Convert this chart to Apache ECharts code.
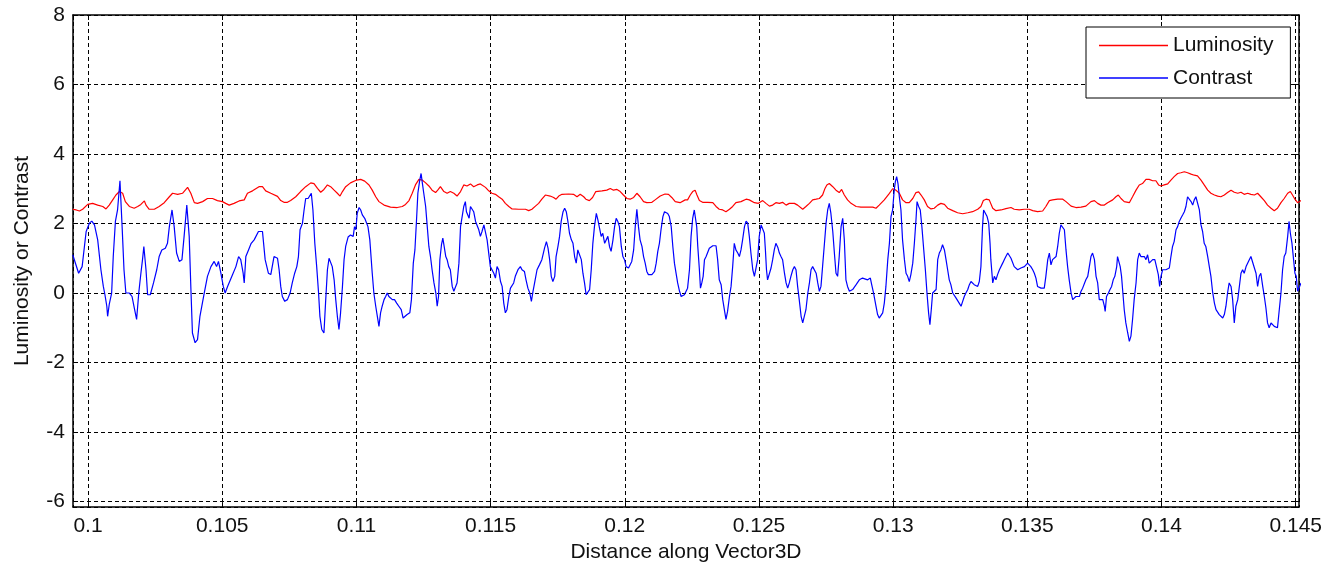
<!DOCTYPE html>
<html>
<head>
<meta charset="utf-8">
<script src="https://cdn.jsdelivr.net/npm/echarts@6/dist/echarts.min.js"></script>
<style>
  html, body { margin: 0; padding: 0; background: #fff; }
  #chart { width: 1325px; height: 568px; }
</style>
</head>
<body>
<div id="chart"></div>
<script>
// Luminosity profile sampled along the vector
const luminosityX = [
  0.09943,0.09956,0.09968,0.09980,0.09999,0.10017,0.10036,0.10055,0.10067,0.10079,
  0.10092,0.10104,0.10117,0.10123,0.10129,0.10139,0.10154,0.10172,0.10185,0.10197,
  0.10210,0.10216,0.10228,0.10247,0.10265,0.10284,0.10303,0.10315,0.10334,0.10352,
  0.10371,0.10383,0.10396,0.10408,0.10427,0.10445,0.10464,0.10482,0.10501,0.10513,
  0.10526,0.10544,0.10563,0.10582,0.10594,0.10613,0.10637,0.10650,0.10662,0.10681,
  0.10706,0.10718,0.10730,0.10743,0.10755,0.10774,0.10792,0.10811,0.10830,0.10842,
  0.10855,0.10867,0.10879,0.10892,0.10904,0.10917,0.10929,0.10939,0.10948,0.10960,
  0.10978,0.11001,0.11016,0.11031,0.11047,0.11059,0.11072,0.11084,0.11103,0.11127,
  0.11152,0.11171,0.11183,0.11196,0.11208,0.11220,0.11233,0.11245,0.11258,0.11270,
  0.11282,0.11295,0.11303,0.11313,0.11326,0.11338,0.11350,0.11363,0.11375,0.11388,
  0.11400,0.11412,0.11425,0.11437,0.11450,0.11462,
  0.11468,0.11481,0.11493,0.11505,0.11518,0.11530,0.11543,0.11555,0.11568,0.11580,
  0.11605,0.11630,0.11642,0.11654,0.11667,0.11679,0.11691,0.11704,0.11710,0.11722,
  0.11735,0.11744,0.11754,0.11766,0.11791,0.11809,0.11822,0.11834,0.11847,0.11855,
  0.11868,0.11880,0.11892,0.11915,0.11933,0.11946,0.11958,0.11971,0.11983,0.11995,
  0.12008,0.12020,0.12033,0.12045,0.12057,0.12070,0.12082,0.12101,0.12113,0.12132,
  0.12150,0.12163,0.12175,0.12188,0.12206,0.12225,
  0.12234,0.12244,0.12253,0.12262,0.12269,0.12278,0.12290,0.12309,0.12328,0.12340,
  0.12352,0.12365,0.12377,0.12390,0.12402,0.12414,0.12433,0.12452,0.12464,0.12483,
  0.12498,0.12514,0.12526,0.12539,0.12551,0.12563,0.12576,0.12588,0.12601,0.12613,
  0.12632,0.12644,0.12663,0.12675,0.12688,0.12700,0.12713,0.12725,0.12737,0.12746,
  0.12753,0.12762,0.12775,0.12787,0.12799,0.12808,0.12818,0.12830,0.12843,0.12862,
  0.12880,0.12905,0.12924,0.12936,0.12948,0.12967,0.12986,0.12998,
  0.13010,0.13023,0.13035,0.13048,0.13060,0.13073,0.13085,0.13095,0.13104,0.13116,
  0.13128,0.13141,0.13153,0.13166,0.13178,0.13191,0.13203,0.13222,0.13240,0.13259,
  0.13278,0.13296,0.13315,0.13327,0.13336,0.13346,0.13358,0.13371,0.13383,0.13402,
  0.13420,0.13439,0.13451,0.13470,0.13489,0.13507,0.13520,0.13538,0.13557,0.13569,
  0.13582,0.13594,0.13613,0.13632,0.13644,0.13663,0.13681,0.13700,0.13718,0.13737,
  0.13750,
  0.13762,0.13774,0.13787,0.13799,0.13818,0.13830,0.13839,0.13849,0.13861,0.13880,
  0.13892,0.13905,0.13917,0.13929,0.13942,0.13954,0.13967,0.13979,0.13989,0.13998,
  0.14010,0.14023,0.14035,0.14047,0.14060,0.14072,0.14085,0.14097,0.14110,0.14122,
  0.14134,0.14147,0.14159,0.14172,0.14184,0.14197,0.14209,0.14221,0.14234,0.14246,
  0.14259,0.14271,0.14284,0.14296,0.14308,0.14321,0.14333,0.14346,0.14358,0.14370,
  0.14383,0.14395,0.14408,0.14420,0.14432,0.14445,0.14457,0.14470,0.14480,0.14488,
  0.14497,0.14507,0.14520
];
const luminosityY = [
  2.41,2.39,2.36,2.41,2.55,2.58,2.53,2.49,2.42,2.53,
  2.68,2.82,2.92,2.94,2.87,2.63,2.49,2.44,2.49,2.55,
  2.65,2.53,2.41,2.41,2.49,2.60,2.77,2.87,2.84,2.87,
  3.04,2.87,2.60,2.58,2.63,2.72,2.72,2.66,2.63,2.58,
  2.53,2.58,2.65,2.68,2.87,2.94,3.06,3.06,2.94,2.87,
  2.78,2.66,2.61,2.61,2.66,2.77,2.92,3.06,3.17,3.15,
  3.01,2.90,2.98,3.11,3.06,2.96,2.87,2.79,2.92,3.06,
  3.17,3.25,3.27,3.22,3.11,2.96,2.77,2.63,2.53,2.47,
  2.46,2.49,2.55,2.66,2.87,3.11,3.27,3.25,3.17,3.08,
  2.96,2.89,2.96,3.06,2.92,2.87,2.92,2.87,2.79,2.92,
  3.11,3.08,3.14,3.06,3.11,3.14,
  3.11,3.04,2.94,2.87,2.84,2.77,2.70,2.58,2.49,2.42,
  2.41,2.41,2.37,2.41,2.50,2.58,2.70,2.82,2.87,2.79,
  2.75,2.70,2.79,2.84,2.85,2.84,2.77,2.84,2.77,2.70,
  2.66,2.75,2.92,2.94,2.96,3.01,2.96,2.98,2.92,2.82,
  2.72,2.70,2.75,2.87,2.77,2.63,2.60,2.61,2.68,2.79,
  2.85,2.84,2.75,2.63,2.60,2.68,
  2.68,2.82,2.92,2.96,2.82,2.66,2.61,2.61,2.60,2.49,
  2.41,2.39,2.34,2.41,2.49,2.60,2.63,2.70,2.68,2.60,
  2.58,2.66,2.58,2.50,2.53,2.60,2.58,2.61,2.53,2.58,
  2.58,2.53,2.41,2.49,2.58,2.68,2.70,2.72,2.82,3.01,
  3.11,3.15,3.06,2.96,2.89,2.98,2.82,2.68,2.58,2.49,
  2.47,2.47,2.47,2.44,2.53,2.68,2.87,3.00,
  2.96,2.87,2.68,2.60,2.60,2.72,2.89,2.91,2.82,2.68,
  2.49,2.42,2.44,2.53,2.58,2.55,2.44,2.37,2.31,2.28,
  2.31,2.34,2.41,2.49,2.66,2.70,2.68,2.44,2.37,2.39,
  2.43,2.46,2.41,2.39,2.41,2.41,2.37,2.34,2.36,2.49,
  2.66,2.68,2.70,2.70,2.63,2.50,2.46,2.47,2.50,2.63,
  2.66,
  2.58,2.53,2.53,2.60,2.68,2.77,2.82,2.72,2.63,2.60,
  2.77,2.96,3.11,3.15,3.27,3.27,3.23,3.23,3.11,3.08,
  3.11,3.14,3.25,3.35,3.44,3.46,3.49,3.46,3.42,3.39,
  3.37,3.25,3.11,2.96,2.87,2.82,2.79,2.77,2.82,2.89,
  2.96,2.90,2.87,2.90,2.84,2.87,2.84,2.82,2.87,2.77,
  2.66,2.53,2.44,2.37,2.44,2.60,2.72,2.87,2.92,2.82,
  2.70,2.60,2.66
];

// Contrast profile sampled along the vector
const contrastX = [
  0.09943,0.09965,0.09978,0.09993,0.10005,0.10014,0.10024,0.10036,0.10048,0.10057,
  0.10063,0.10070,0.10073,0.10079,0.10088,0.10094,0.10102,0.10110,0.10119,0.10127,
  0.10134,0.10141,0.10154,0.10164,0.10171,0.10181,0.10189,0.10197,0.10203,0.10208,
  0.10216,0.10222,0.10232,0.10244,0.10256,0.10265,0.10275,0.10288,0.10296,0.10303,
  0.10313,0.10321,0.10330,0.10340,0.10350,0.10358,0.10368,0.10377,0.10383,0.10389,
  0.10399,0.10408,0.10417,0.10424,0.10433,0.10445,0.10458,0.10470,0.10479,0.10486,
  0.10495,0.10504,0.10511,0.10520,0.10536,0.10551,0.10561,0.10569,0.10578,0.10582,
  0.10588,0.10598,0.10608,0.10619,0.10635,0.10650,0.10660,0.10672,0.10681,0.10693,
  0.10706,0.10712,0.10718,0.10724,0.10733,0.10743,0.10753,0.10761,0.10770,0.10778,
  0.10784,0.10790,0.10799,0.10805,0.10811,0.10820,0.10826,0.10832,0.10838,0.10845,
  0.10852,0.10859,0.10864,0.10871,0.10879,0.10885,0.10892,0.10898,0.10904,0.10910,
  0.10917,0.10923,0.10929,0.10935,0.10941,0.10948,0.10954,0.10960,0.10969,0.10978,
  0.10988,0.10993,0.10998,0.11003,0.11010,0.11016,0.11022,0.11031,0.11038,0.11043,
  0.11050,0.11059,0.11065,0.11072,0.11078,0.11084,0.11090,0.11096,0.11103,0.11109,
  0.11115,0.11121,0.11127,0.11134,0.11142,0.11150,0.11158,0.11167,0.11174,0.11181,
  0.11189,0.11199,0.11205,0.11212,0.11218,0.11224,0.11229,0.11236,0.11241,0.11246,
  0.11251,0.11258,0.11264,0.11270,0.11276,0.11282,0.11289,0.11296,0.11301,0.11306,
  0.11311,0.11317,0.11322,0.11328,0.11333,0.11338,0.11344,0.11350,0.11357,0.11363,
  0.11369,0.11375,0.11382,0.11388,0.11394,0.11400,0.11406,0.11410,0.11415,0.11420,
  0.11425,0.11431,0.11437,0.11444,0.11450,0.11456,0.11462,
  0.11468,0.11475,0.11481,0.11487,0.11493,0.11499,0.11505,0.11512,0.11518,0.11524,
  0.11530,0.11537,0.11543,0.11549,0.11555,0.11561,0.11568,0.11574,0.11580,0.11586,
  0.11592,0.11602,0.11611,0.11617,0.11626,0.11632,0.11639,0.11646,0.11652,0.11658,
  0.11664,0.11673,0.11682,0.11691,0.11701,0.11708,0.11714,0.11720,0.11726,0.11732,
  0.11739,0.11744,0.11751,0.11757,0.11763,0.11770,0.11776,0.11782,0.11788,0.11794,
  0.11801,0.11807,0.11813,0.11819,0.11825,0.11832,0.11838,0.11844,0.11850,0.11856,
  0.11863,0.11869,0.11875,0.11881,0.11887,0.11894,0.11900,0.11906,0.11912,0.11918,
  0.11925,0.11931,0.11937,0.11943,0.11949,0.11956,0.11962,0.11968,0.11974,0.11980,
  0.11987,0.11993,0.11999,0.12005,0.12014,0.12020,0.12026,0.12033,0.12039,0.12045,
  0.12051,0.12057,0.12064,0.12070,0.12076,0.12082,0.12088,0.12101,0.12111,0.12117,
  0.12123,0.12129,0.12135,0.12142,0.12148,0.12154,0.12160,0.12166,0.12173,0.12179,
  0.12185,0.12191,0.12197,0.12204,0.12210,0.12216,0.12222,
  0.12234,0.12241,0.12247,0.12253,0.12259,0.12263,0.12268,0.12272,0.12278,0.12282,
  0.12287,0.12292,0.12297,0.12303,0.12309,0.12315,0.12321,0.12328,0.12340,0.12346,
  0.12352,0.12359,0.12365,0.12371,0.12377,0.12383,0.12390,0.12396,0.12402,0.12408,
  0.12414,0.12421,0.12427,0.12433,0.12439,0.12446,0.12452,0.12458,0.12464,0.12470,
  0.12477,0.12483,0.12489,0.12495,0.12501,0.12508,0.12514,0.12520,0.12524,0.12528,
  0.12532,0.12539,0.12545,0.12551,0.12557,0.12563,0.12570,0.12576,0.12582,0.12588,
  0.12595,0.12601,0.12607,0.12613,0.12619,0.12626,0.12632,0.12638,0.12644,0.12650,
  0.12657,0.12663,0.12669,0.12675,0.12682,0.12688,0.12694,0.12700,0.12706,0.12713,
  0.12719,0.12725,0.12731,0.12737,0.12744,0.12750,0.12756,0.12762,0.12768,0.12775,
  0.12781,0.12787,0.12793,0.12799,0.12806,0.12812,0.12818,0.12824,0.12830,0.12837,
  0.12849,0.12862,0.12874,0.12886,0.12905,0.12915,0.12920,0.12927,0.12936,0.12942,
  0.12948,0.12955,0.12961,0.12967,0.12973,0.12980,0.12986,0.12992,0.12998,
  0.13004,0.13008,0.13013,0.13018,0.13023,0.13029,0.13035,0.13042,0.13048,0.13054,
  0.13060,0.13066,0.13073,0.13079,0.13085,0.13089,0.13095,0.13101,0.13107,0.13114,
  0.13120,0.13126,0.13132,0.13137,0.13142,0.13147,0.13153,0.13160,0.13166,0.13172,
  0.13178,0.13184,0.13191,0.13197,0.13203,0.13209,0.13215,0.13222,0.13228,0.13234,
  0.13240,0.13246,0.13253,0.13259,0.13265,0.13271,0.13278,0.13284,0.13290,0.13296,
  0.13302,0.13309,0.13315,0.13321,0.13327,0.13333,0.13337,0.13343,0.13350,0.13356,
  0.13361,0.13364,0.13371,0.13377,0.13383,0.13389,0.13396,0.13402,0.13408,0.13414,
  0.13420,0.13427,0.13433,0.13439,0.13445,0.13451,0.13458,0.13464,0.13470,0.13476,
  0.13482,0.13489,0.13495,0.13501,0.13507,0.13513,0.13520,0.13526,0.13532,0.13538,
  0.13545,0.13551,0.13557,0.13563,0.13569,0.13576,0.13582,0.13588,0.13594,0.13600,
  0.13607,0.13613,0.13619,0.13625,0.13632,0.13638,0.13644,0.13650,0.13656,0.13663,
  0.13669,0.13675,0.13681,0.13687,0.13694,0.13700,0.13706,0.13712,0.13718,0.13725,
  0.13731,0.13737,0.13743,0.13750,0.13756,
  0.13762,0.13768,0.13774,0.13781,0.13787,0.13790,0.13795,0.13802,0.13808,0.13814,
  0.13820,0.13826,0.13833,0.13836,0.13840,0.13846,0.13851,0.13856,0.13861,0.13867,
  0.13874,0.13880,0.13886,0.13892,0.13898,0.13905,0.13911,0.13917,0.13923,0.13929,
  0.13936,0.13942,0.13948,0.13954,0.13961,0.13967,0.13975,0.13982,0.13988,0.13993,
  0.13998,0.14004,0.14010,0.14016,0.14023,0.14029,0.14035,0.14041,0.14047,0.14054,
  0.14060,0.14066,0.14072,0.14079,0.14085,0.14091,0.14097,0.14103,0.14110,0.14116,
  0.14122,0.14128,0.14134,0.14141,0.14147,0.14153,0.14159,0.14165,0.14172,0.14178,
  0.14184,0.14190,0.14197,0.14203,0.14209,0.14215,0.14221,0.14228,0.14234,0.14240,
  0.14246,0.14252,0.14259,0.14265,0.14271,0.14277,0.14284,0.14290,0.14296,0.14302,
  0.14308,0.14315,0.14321,0.14327,0.14333,0.14339,0.14346,0.14352,0.14358,0.14364,
  0.14370,0.14377,0.14383,0.14389,0.14395,0.14401,0.14408,0.14414,0.14420,0.14426,
  0.14432,0.14439,0.14445,0.14451,0.14457,0.14463,0.14470,0.14475,0.14480,0.14486,
  0.14492,0.14497,0.14502,0.14507,0.14513,0.14520
];
const contrastY = [
  1.10,0.57,0.76,1.77,2.01,2.07,1.96,1.53,0.67,0.19,
  -0.05,-0.38,-0.67,-0.33,0.00,1.05,2.06,2.39,3.23,1.91,
  0.67,0.00,0.00,-0.10,-0.38,-0.76,0.00,0.57,0.96,1.34,
  0.67,-0.05,-0.05,0.29,0.67,1.05,1.24,1.29,1.43,1.91,
  2.39,1.91,1.15,0.91,0.96,1.63,2.53,1.63,0.19,-1.15,
  -1.43,-1.34,-0.67,-0.38,0.00,0.48,0.76,0.91,0.76,0.91,
  0.57,0.19,0.00,0.19,0.48,0.76,1.05,0.96,0.57,0.29,
  1.05,1.24,1.43,1.53,1.77,1.77,0.96,0.57,0.53,1.05,
  1.00,0.67,0.19,-0.10,-0.24,-0.19,0.00,0.29,0.57,0.76,
  1.05,1.82,2.01,2.39,2.72,2.72,2.77,2.87,2.39,1.43,
  0.76,0.00,-0.67,-1.05,-1.15,-0.29,0.67,1.00,0.96,0.76,
  0.38,-0.19,-0.67,-1.05,-0.57,0.19,0.96,1.34,1.61,1.67,
  1.63,1.91,1.82,2.29,2.46,2.39,2.25,2.15,2.10,1.91,
  1.53,0.57,0.00,-0.38,-0.67,-0.96,-0.57,-0.38,-0.19,-0.10,
  0.00,-0.10,-0.10,-0.19,-0.19,-0.29,-0.38,-0.48,-0.72,-0.67,
  -0.62,-0.57,-0.19,0.86,1.24,2.10,2.87,3.25,3.44,3.15,
  2.87,2.49,1.91,1.34,1.05,0.67,0.29,0.00,-0.38,-0.10,
  0.96,1.39,1.58,1.29,1.05,0.96,0.76,0.67,0.19,0.05,
  0.05,0.29,0.86,1.91,2.20,2.49,2.63,2.34,2.39,2.15,
  2.49,2.49,2.34,2.06,2.01,1.82,1.63,
  1.77,1.96,1.91,1.53,1.15,0.76,0.76,0.57,0.43,0.76,
  0.67,0.33,0.19,-0.29,-0.57,-0.48,-0.10,0.14,0.19,0.29,
  0.48,0.67,0.76,0.67,0.62,0.38,0.14,0.00,-0.24,0.05,
  0.29,0.67,0.81,0.96,1.29,1.48,1.29,0.96,0.48,0.33,
  0.48,1.05,1.34,1.63,2.06,2.34,2.44,2.34,2.06,1.72,
  1.53,1.43,1.05,0.86,1.24,1.24,0.96,0.57,0.29,-0.05,
  -0.10,0.10,0.67,1.43,1.91,2.29,2.10,2.06,1.63,1.72,
  1.43,1.39,1.63,1.34,1.20,1.53,1.91,2.15,2.06,1.91,
  1.34,1.05,0.96,0.76,0.72,0.76,0.91,1.24,1.91,2.41,
  1.91,1.53,1.34,1.05,0.86,0.62,0.53,0.53,0.62,0.86,
  1.20,1.43,1.82,2.20,2.34,2.34,2.29,2.20,1.91,1.34,
  0.86,0.57,0.29,0.05,-0.10,-0.14,-0.05,
  0.14,0.67,1.63,2.15,2.39,2.44,1.91,1.34,0.67,0.14,
  0.29,0.48,0.96,1.05,1.10,1.29,1.34,1.36,1.36,0.96,
  0.38,0.24,-0.19,-0.48,-0.76,-0.53,-0.10,0.19,0.76,1.43,
  1.24,1.15,1.05,1.24,1.53,1.91,2.07,2.01,1.63,1.15,
  0.67,0.48,0.53,0.96,1.63,1.96,1.96,1.72,1.24,0.67,
  0.38,0.43,0.72,0.96,1.24,1.43,1.32,1.15,1.05,0.96,
  0.57,0.29,0.14,0.29,0.48,0.67,0.76,0.67,0.19,-0.19,
  -0.67,-0.86,-0.81,-0.48,0.00,0.29,0.67,0.76,0.72,0.57,
  0.29,0.05,0.19,0.76,1.43,2.01,2.39,2.58,2.29,1.77,
  1.15,0.57,0.48,1.05,1.91,2.15,1.53,0.38,0.19,0.05,
  0.10,0.24,0.38,0.43,0.38,0.43,0.24,0.00,-0.38,-0.62,
  -0.72,-0.76,-0.57,-0.29,0.19,0.96,1.43,2.20,2.39,
  2.96,3.20,3.35,3.15,2.77,2.39,1.53,0.96,0.57,0.48,
  0.33,0.53,0.86,1.43,2.10,2.63,2.49,2.39,1.91,1.24,
  0.67,0.00,-0.57,-0.91,-0.48,0.00,0.00,0.10,0.96,1.15,
  1.24,1.39,1.24,0.96,0.67,0.38,0.24,0.00,-0.05,-0.14,
  -0.19,-0.29,-0.38,-0.24,-0.10,0.00,0.10,0.24,0.33,0.33,
  0.24,0.29,0.19,0.33,0.76,1.91,2.39,2.39,2.20,2.01,
  1.43,0.96,0.29,0.48,0.38,0.53,0.67,0.67,0.86,0.96,
  1.05,1.15,1.20,1.00,0.96,0.76,0.72,0.67,0.62,0.72,
  0.67,0.76,0.81,0.86,0.81,0.76,0.67,0.57,0.43,0.19,
  0.14,0.14,0.14,0.14,0.48,0.96,1.15,0.81,0.96,1.00,
  1.05,1.34,1.72,1.96,2.01,1.82,1.24,0.76,0.38,0.00,
  -0.19,-0.19,-0.10,-0.05,-0.10,0.05,0.14,0.19,0.38,0.48,
  0.76,1.05,1.15,0.96,0.48,
  0.29,-0.19,-0.24,-0.19,-0.38,-0.53,-0.10,0.00,0.10,0.19,
  0.38,0.48,0.76,1.05,1.10,0.76,0.48,0.00,-0.48,-0.86,
  -1.15,-1.39,-1.24,-0.76,-0.19,0.29,0.96,1.15,1.05,1.00,
  1.05,0.96,1.10,0.86,0.91,0.96,0.96,0.96,0.53,0.19,
  0.48,0.67,0.72,0.67,0.67,0.72,1.05,1.34,1.48,1.82,
  1.91,2.06,2.15,2.25,2.34,2.49,2.77,2.82,2.63,2.53,
  2.68,2.77,2.82,2.39,1.96,1.77,1.43,1.34,1.05,0.76,
  0.48,0.05,-0.29,-0.48,-0.53,-0.62,-0.67,-0.72,-0.62,-0.38,
  0.00,0.29,0.19,-0.19,-0.86,-0.38,-0.19,0.19,0.57,0.67,
  0.57,0.76,0.76,0.96,1.05,1.00,0.72,0.57,0.19,0.48,
  0.57,0.19,-0.10,-0.43,-0.86,-1.00,-0.86,-0.86,-0.96,-1.00,
  -1.00,-0.96,0.00,0.67,1.05,1.15,1.63,2.06,1.72,1.43,
  0.96,0.57,0.48,0.05,0.10,0.29
];

const xMin = 0.09944, xMax = 0.14512;
const yMin = -6.16, yMax = 8;

const FONT = '"Liberation Sans", Arial, Helvetica, sans-serif';
const INK = '#111';

function pairs(xs, ys) {
  return xs.map((x, i) => [x, ys[i]]);
}

const gridLine = { show: true, lineStyle: { color: '#000', width: 1, type: [4, 3] } };
const frameLine = { show: true, onZero: false, lineStyle: { color: '#000', width: 1.5 } };
const innerTick = { show: true, inside: true, length: 5, lineStyle: { color: '#000', width: 1 } };

const chart = echarts.init(document.getElementById('chart'), null, { renderer: 'canvas' });

chart.setOption({
  animation: false,
  backgroundColor: '#fff',
  grid: { left: 73, right: 26, top: 15, bottom: 59, containLabel: false },
  legend: {
    orient: 'vertical',
    left: 1086,
    top: 27,
    icon: 'rect',
    itemWidth: 69,
    itemHeight: 1.3,
    itemGap: 11.5,
    padding: [8, 17, 9.5, 13],
    backgroundColor: '#fff',
    borderColor: '#000',
    borderWidth: 1,
    borderRadius: 0,
    textStyle: { fontSize: 21, color: INK, fontFamily: FONT },
    data: ['Luminosity', 'Contrast']
  },
  xAxis: [
    {
      type: 'value', position: 'bottom', min: xMin, max: xMax, splitNumber: 9,
      axisLine: frameLine, axisTick: innerTick, splitLine: gridLine,
      axisLabel: { showMinLabel: false, showMaxLabel: false, margin: 9,
                   fontSize: 21, color: INK, fontFamily: FONT },
      name: 'Distance along Vector3D', nameLocation: 'middle', nameGap: 34,
      nameTextStyle: { fontSize: 21, color: INK, fontFamily: FONT }
    },
    {
      type: 'value', position: 'top', min: xMin, max: xMax, splitNumber: 9,
      axisLine: frameLine, axisTick: innerTick,
      axisLabel: { show: false }, splitLine: { show: false }
    }
  ],
  yAxis: [
    {
      type: 'value', position: 'left', min: yMin, max: yMax, splitNumber: 7,
      axisLine: frameLine, axisTick: innerTick, splitLine: gridLine,
      axisLabel: { showMinLabel: false, showMaxLabel: true, margin: 8,
                   fontSize: 21, color: INK, fontFamily: FONT },
      name: 'Luminosity or Contrast', nameLocation: 'middle', nameGap: 40,
      nameTextStyle: { fontSize: 21, color: INK, fontFamily: FONT }
    },
    {
      type: 'value', position: 'right', min: yMin, max: yMax, splitNumber: 7,
      axisLine: frameLine, axisTick: innerTick,
      axisLabel: { show: false }, splitLine: { show: false }
    }
  ],
  series: [
    {
      name: 'Luminosity', type: 'line', xAxisIndex: 0, yAxisIndex: 0,
      data: pairs(luminosityX, luminosityY),
      symbol: 'none', showSymbol: false, clip: true,
      lineStyle: { color: '#ff0000', width: 1.2 },
      itemStyle: { color: '#ff0000' }
    },
    {
      name: 'Contrast', type: 'line', xAxisIndex: 0, yAxisIndex: 0,
      data: pairs(contrastX, contrastY),
      symbol: 'none', showSymbol: false, clip: true,
      lineStyle: { color: '#0000ff', width: 1.2 },
      itemStyle: { color: '#0000ff' }
    }
  ]
});
</script>
</body>
</html>
